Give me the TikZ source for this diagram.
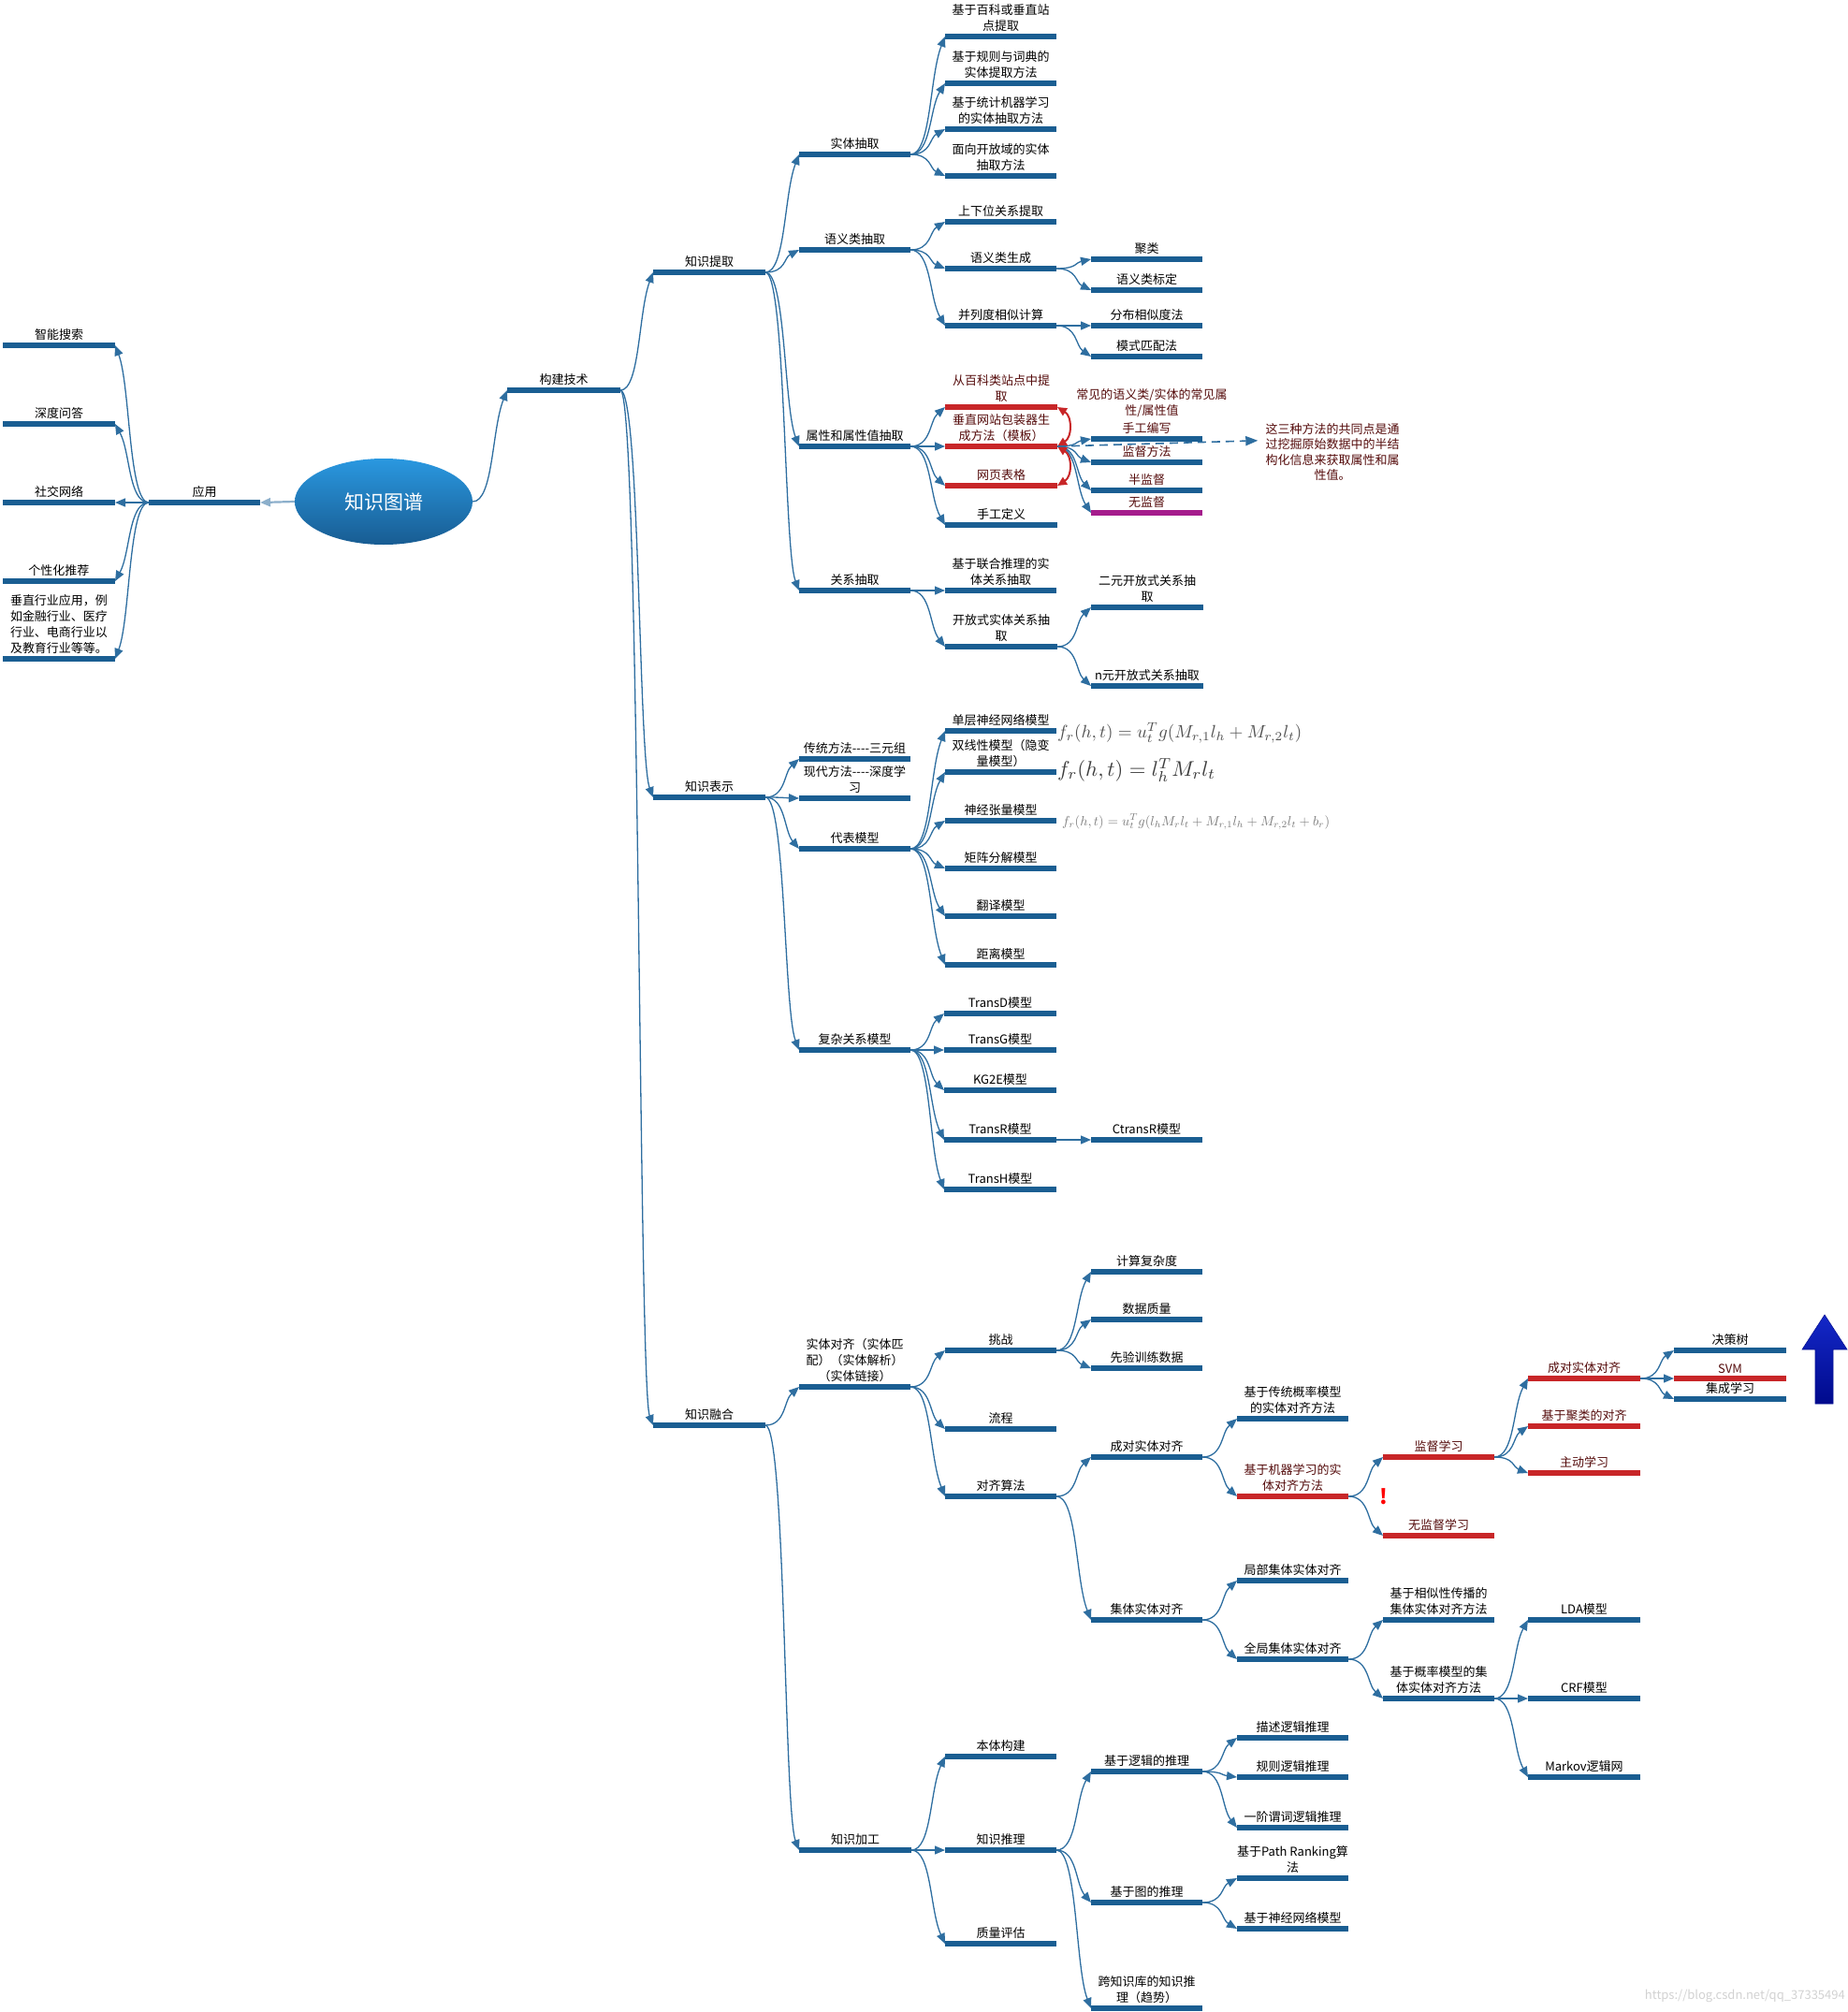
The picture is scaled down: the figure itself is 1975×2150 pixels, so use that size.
\documentclass[tikz,border=0pt]{standalone}
\usepackage{fontspec}
\setmainfont{Noto Sans CJK SC}
\usepackage{graphicx}
\usetikzlibrary{arrows.meta,calc,shapes.geometric}
\definecolor{nb}{RGB}{26,94,146}
\definecolor{cc}{RGB}{46,110,160}
\definecolor{rl}{RGB}{200,38,40}
\definecolor{pl}{RGB}{165,28,140}
\definecolor{dr}{RGB}{85,12,12}
\tikzset{
  bl/.style={draw=nb, line width=5.5pt},
  rdl/.style={draw=rl, line width=5.5pt},
  ppl/.style={draw=pl, line width=5.5pt},
  tb/.style={text=black},
  tr/.style={text=dr},
  lbl/.style={anchor=south, inner sep=0pt, align=center, font=\fontsize{13}{17}\selectfont},
  conn/.style={draw=cc, line width=1.3pt, -{Triangle[length=11pt,width=9pt]},
    to path={let \p1=(\tikztostart),\p2=(\tikztotarget),\n1={\x2-\x1},\n2={\y2-\y1},
      \n3={-0.35*\n2/max(1,abs(\n2)/120)} in
      .. controls +(0.6*\n1,0) and +(-0.45*\n1,\n3) .. (\tikztotarget) \tikztonodes}},
  rarc/.style={draw=rl, line width=2pt, {Triangle[length=10pt,width=9pt]}-{Triangle[length=10pt,width=9pt]}},
  fml/.style={anchor=west, inner sep=0pt},
}
\newcommand\mmbr[7]{%
  \coordinate (#1L) at (#2,-#4);
  \coordinate (#1R) at (#3,-#4);
  \path[#5] (#1L) -- (#1R);
  \node[lbl,#6] (#1) at ({(#2+#3)/2},{5-#4}) {#7};
}
\begin{document}
\begin{tikzpicture}[x=1pt,y=1pt]
\fill[white] (0,0) rectangle (1975,-2150);
\useasboundingbox (0,0) rectangle (1975,-2150);

% central node
\node[ellipse, minimum width=190pt, minimum height=92pt, inner sep=0pt,
  top color={rgb,255:red,42;green,152;blue,224}, bottom color={rgb,255:red,24;green,92;blue,146},
  text=white, font=\fontsize{21}{21}\selectfont] (kg) at (410,-536) {知识图谱};

% left branch
\mmbr{yy}{159}{278}{537}{bl}{tb}{应用}
\mmbr{zs}{3}{123}{369}{bl}{tb}{智能搜索}
\mmbr{sd}{3}{123}{453}{bl}{tb}{深度问答}
\mmbr{sj}{3}{123}{537}{bl}{tb}{社交网络}
\mmbr{gx}{3}{123}{621}{bl}{tb}{个性化推荐}
\mmbr{cz}{3}{123}{704}{bl}{tb}{垂直行业应用，例\\如金融行业、医疗\\行业、电商行业以\\及教育行业等等。}

% construction
\mmbr{gj}{542}{663}{417}{bl}{tb}{构建技术}
\mmbr{tq}{698}{818}{291}{bl}{tb}{知识提取}
\mmbr{bs}{698}{818}{852}{bl}{tb}{知识表示}
\mmbr{rh}{698}{818}{1523}{bl}{tb}{知识融合}

% knowledge extraction
\mmbr{st}{854}{973}{165}{bl}{tb}{实体抽取}
\mmbr{yl}{854}{973}{267}{bl}{tb}{语义类抽取}
\mmbr{sx}{854}{973}{477}{bl}{tb}{属性和属性值抽取}
\mmbr{gr}{854}{973}{631}{bl}{tb}{关系抽取}
\mmbr{e1}{1010}{1129}{39}{bl}{tb}{基于百科或垂直站\\点提取}
\mmbr{e2}{1010}{1129}{89}{bl}{tb}{基于规则与词典的\\实体提取方法}
\mmbr{e3}{1010}{1129}{138}{bl}{tb}{基于统计机器学习\\的实体抽取方法}
\mmbr{e4}{1010}{1129}{188}{bl}{tb}{面向开放域的实体\\抽取方法}
\mmbr{s1}{1010}{1129}{237}{bl}{tb}{上下位关系提取}
\mmbr{s2}{1010}{1129}{287}{bl}{tb}{语义类生成}
\mmbr{s3}{1010}{1129}{348}{bl}{tb}{并列度相似计算}
\mmbr{sa}{1166}{1285}{277}{bl}{tb}{聚类}
\mmbr{sb}{1166}{1285}{310}{bl}{tb}{语义类标定}
\mmbr{sc}{1166}{1285}{348}{bl}{tb}{分布相似度法}
\mmbr{sd2}{1166}{1285}{381}{bl}{tb}{模式匹配法}
\mmbr{p1}{1010}{1130}{435}{rdl}{tr}{从百科类站点中提\\取}
\mmbr{p2}{1010}{1130}{477}{rdl}{tr}{垂直网站包装器生\\成方法（模板）}
\mmbr{p3}{1010}{1130}{519}{rdl}{tr}{网页表格}
\mmbr{p4}{1010}{1130}{561}{bl}{tb}{手工定义}
\mmbr{q1}{1166}{1285}{469}{bl}{tr}{手工编写}
\mmbr{q2}{1166}{1285}{494}{bl}{tr}{监督方法}
\mmbr{q3}{1166}{1285}{524}{bl}{tr}{半监督}
\mmbr{q4}{1166}{1285}{548}{ppl}{tr}{无监督}
\node[lbl,tr] (cm) at (1231,-446) {常见的语义类/实体的常见属\\性/属性值};
\node[tr, align=center, inner sep=0pt, font=\fontsize{13}{16.2}\selectfont] (note) at (1424,-483)
  {这三种方法的共同点是通\\过挖掘原始数据中的半结\\构化信息来获取属性和属\\性值。};
\mmbr{r1}{1010}{1129}{631}{bl}{tb}{基于联合推理的实\\体关系抽取}
\mmbr{r2}{1010}{1130}{691}{bl}{tb}{开放式实体关系抽\\取}
\mmbr{ra}{1166}{1286}{649}{bl}{tb}{二元开放式关系抽\\取}
\mmbr{rb}{1166}{1286}{733}{bl}{tb}{n元开放式关系抽取}

% knowledge representation
\mmbr{b1}{854}{973}{811}{bl}{tb}{传统方法-{}-{}-{}-三元组}
\mmbr{b2}{854}{973}{853}{bl}{tb}{现代方法-{}-{}-{}-深度学\\习}
\mmbr{b3}{854}{973}{907}{bl}{tb}{代表模型}
\mmbr{b4}{854}{973}{1122}{bl}{tb}{复杂关系模型}
\mmbr{m1}{1010}{1129}{781}{bl}{tb}{单层神经网络模型}
\mmbr{m2}{1010}{1129}{825}{bl}{tb}{双线性模型（隐变\\量模型）}
\mmbr{m3}{1010}{1129}{877}{bl}{tb}{神经张量模型}
\mmbr{m4}{1010}{1129}{928}{bl}{tb}{矩阵分解模型}
\mmbr{m5}{1010}{1129}{979}{bl}{tb}{翻译模型}
\mmbr{m6}{1010}{1129}{1031}{bl}{tb}{距离模型}
\mmbr{c1}{1009}{1129}{1083}{bl}{tb}{TransD模型}
\mmbr{c2}{1009}{1129}{1122}{bl}{tb}{TransG模型}
\mmbr{c3}{1009}{1129}{1165}{bl}{tb}{KG2E模型}
\mmbr{c4}{1009}{1129}{1218}{bl}{tb}{TransR模型}
\mmbr{c5}{1009}{1129}{1271}{bl}{tb}{TransH模型}
\mmbr{c6}{1166}{1285}{1218}{bl}{tb}{CtransR模型}
\node[fml, text={rgb,255:red,80;green,80;blue,80}] (fa) at (1130,-783)
  {\resizebox{261pt}{!}{$f_r(h,t) = u_t^T g(M_{r,1} l_h + M_{r,2} l_t)$}};
\node[fml, text={rgb,255:red,60;green,60;blue,60}] (fb) at (1130,-823)
  {\resizebox{169pt}{!}{$f_r(h,t) = l_h^T M_r l_t$}};
\node[fml, text={rgb,255:red,125;green,125;blue,125}] (fc) at (1135,-878)
  {\resizebox{286pt}{!}{$f_r(h,t) = u_t^T g(l_h M_r l_t + M_{r,1} l_h + M_{r,2} l_t + b_r)$}};

% knowledge fusion
\mmbr{ea}{854}{973}{1482}{bl}{tb}{实体对齐（实体匹\\配）（实体解析）\\（实体链接）}
\mmbr{jg}{854}{974}{1977}{bl}{tb}{知识加工}
\mmbr{f1}{1010}{1129}{1443}{bl}{tb}{挑战}
\mmbr{f2}{1010}{1129}{1527}{bl}{tb}{流程}
\mmbr{f3}{1010}{1129}{1599}{bl}{tb}{对齐算法}
\mmbr{fa1}{1166}{1285}{1359}{bl}{tb}{计算复杂度}
\mmbr{fa2}{1166}{1285}{1410}{bl}{tb}{数据质量}
\mmbr{fa3}{1166}{1285}{1462}{bl}{tb}{先验训练数据}
\mmbr{fc1}{1166}{1285}{1557}{bl}{tb}{成对实体对齐}
\mmbr{fc2}{1166}{1285}{1731}{bl}{tb}{集体实体对齐}
\mmbr{g1}{1322}{1441}{1516}{bl}{tb}{基于传统概率模型\\的实体对齐方法}
\mmbr{g2}{1322}{1441}{1599}{rdl}{tr}{基于机器学习的实\\体对齐方法}
\mmbr{g3}{1322}{1441}{1689}{bl}{tb}{局部集体实体对齐}
\mmbr{g4}{1322}{1441}{1773}{bl}{tb}{全局集体实体对齐}
\mmbr{h1}{1478}{1597}{1557}{rdl}{tr}{监督学习}
\mmbr{h2}{1478}{1597}{1641}{rdl}{tr}{无监督学习}
\mmbr{h3}{1478}{1597}{1731}{bl}{tb}{基于相似性传播的\\集体实体对齐方法}
\mmbr{h4}{1478}{1597}{1815}{bl}{tb}{基于概率模型的集\\体实体对齐方法}
\mmbr{i1}{1633}{1753}{1473}{rdl}{tr}{成对实体对齐}
\mmbr{i2}{1633}{1753}{1524}{rdl}{tr}{基于聚类的对齐}
\mmbr{i3}{1633}{1753}{1574}{rdl}{tr}{主动学习}
\mmbr{i4}{1633}{1753}{1731}{bl}{tb}{LDA模型}
\mmbr{i5}{1633}{1753}{1815}{bl}{tb}{CRF模型}
\mmbr{i6}{1633}{1753}{1899}{bl}{tb}{Markov逻辑网}
\mmbr{j1}{1789}{1909}{1443}{bl}{tb}{决策树}
\mmbr{j2}{1789}{1909}{1473}{rdl}{tr}{SVM}
\mmbr{j3}{1789}{1909}{1495}{bl}{tb}{集成学习}
\node[text=red, inner sep=0pt, font=\fontsize{22}{22}\selectfont\bfseries] (ex) at (1479,-1599) {!};

% knowledge processing
\mmbr{k1}{1010}{1129}{1877}{bl}{tb}{本体构建}
\mmbr{k2}{1010}{1129}{1977}{bl}{tb}{知识推理}
\mmbr{k3}{1010}{1129}{2077}{bl}{tb}{质量评估}
\mmbr{ka}{1166}{1285}{1893}{bl}{tb}{基于逻辑的推理}
\mmbr{kb}{1166}{1285}{2033}{bl}{tb}{基于图的推理}
\mmbr{kc}{1166}{1285}{2146}{bl}{tb}{跨知识库的知识推\\理（趋势）}
\mmbr{l1}{1322}{1441}{1857}{bl}{tb}{描述逻辑推理}
\mmbr{l2}{1322}{1441}{1899}{bl}{tb}{规则逻辑推理}
\mmbr{l3}{1322}{1441}{1953}{bl}{tb}{一阶谓词逻辑推理}
\mmbr{l4}{1322}{1441}{2007}{bl}{tb}{基于Path Ranking算\\法}
\mmbr{l5}{1322}{1441}{2061}{bl}{tb}{基于神经网络模型}

% connectors
\draw[draw=cc!55, line width=2.2pt, -{Triangle[length=11pt,width=9pt]}] (kg.west) -- (yyR);
\draw[conn] (kg.east) to (gjL);
\foreach \a/\b in {yyL/zsR, yyL/sdR, yyL/sjR, yyL/gxR, yyL/czR}
  \draw[conn] (\a) to (\b);
\foreach \a/\b in {gjR/tqL, gjR/bsL, gjR/rhL,
  tqR/stL, tqR/ylL, tqR/sxL, tqR/grL,
  stR/e1L, stR/e2L, stR/e3L, stR/e4L,
  ylR/s1L, ylR/s2L, ylR/s3L, s2R/saL, s2R/sbL, s3R/scL, s3R/sd2L,
  sxR/p1L, sxR/p2L, sxR/p3L, sxR/p4L,
  p2R/q1L, p2R/q2L, p2R/q3L, p2R/q4L,
  grR/r1L, grR/r2L, r2R/raL, r2R/rbL,
  bsR/b1L, bsR/b2L, bsR/b3L, bsR/b4L,
  b3R/m1L, b3R/m2L, b3R/m3L, b3R/m4L, b3R/m5L, b3R/m6L,
  b4R/c1L, b4R/c2L, b4R/c3L, b4R/c4L, b4R/c5L, c4R/c6L,
  rhR/eaL, rhR/jgL,
  eaR/f1L, eaR/f2L, eaR/f3L,
  f1R/fa1L, f1R/fa2L, f1R/fa3L,
  f3R/fc1L, f3R/fc2L,
  fc1R/g1L, fc1R/g2L, g2R/h1L, g2R/h2L,
  h1R/i1L, h1R/i2L, h1R/i3L, i1R/j1L, i1R/j2L, i1R/j3L,
  fc2R/g3L, fc2R/g4L, g4R/h3L, g4R/h4L,
  h4R/i4L, h4R/i5L, h4R/i6L,
  jgR/k1L, jgR/k2L, jgR/k3L,
  k2R/kaL, k2R/kbL, k2R/kcL,
  kaR/l1L, kaR/l2L, kaR/l3L, kbR/l4L, kbR/l5L}
  \draw[conn] (\a) to (\b);

% red relation arcs and dashed note arrow
\draw[rarc] (p2R) .. controls +(16,10) and +(16,-10) .. (p1R);
\draw[rarc] (p2R) .. controls +(16,-10) and +(16,10) .. (p3R);
\draw[draw=cc, line width=1.6pt, dash pattern=on 9pt off 6pt, -{Triangle[length=13pt,width=10pt]}]
  (p2R) -- ([xshift=-8pt]$(note.north west)!0.3!(note.south west)$);

% big blue arrow
\shadedraw[draw={rgb,255:red,10;green,20;blue,150}, line width=0.6pt,
  top color={rgb,255:red,20;green,40;blue,200}, middle color={rgb,255:red,30;green,120;blue,255},
  bottom color={rgb,255:red,0;green,10;blue,140}]
  (1950,-1405) -- (1974,-1442) -- (1959,-1442) -- (1959,-1500) -- (1940,-1500)
  -- (1940,-1442) -- (1926,-1442) -- cycle;

% watermark
\node[anchor=east, inner sep=0pt, text=gray!35, font=\fontsize{13}{13}\selectfont] (wm) at (1972,-2133)
  {https://blog.csdn.net/qq\_37335494};
\end{tikzpicture}
\end{document}
